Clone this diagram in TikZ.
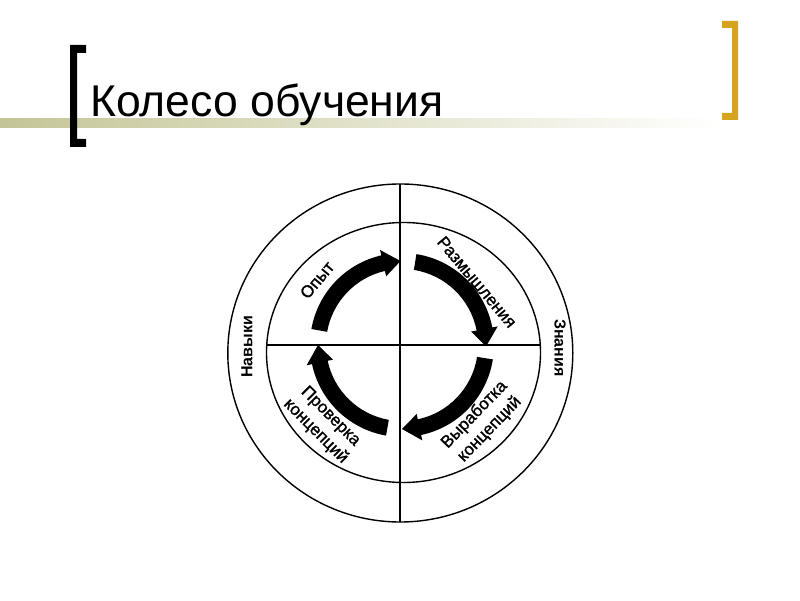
\documentclass[tikz,border=0pt]{standalone}
\usepackage{fontspec}
\setmainfont{Liberation Sans}
\newfontfamily\scanfont[FakeBold=1.2]{Liberation Sans}
\definecolor{khaki}{RGB}{196,197,150}
\definecolor{bracketgold}{RGB}{214,163,30}
\newcommand\ringarrow[2]{%
  \pgfmathsetmacro\raheadang{#2+12}%
  \fill[arrowfill] (#1:92pt) arc[start angle=#1, end angle=\raheadang, radius=92pt]
    -- (\raheadang:97.5pt) -- (#2:84pt) -- (\raheadang:70.5pt) -- (\raheadang:76pt)
    arc[start angle=\raheadang, end angle=#1, radius=76pt] -- cycle;}
\begin{document}
\begin{tikzpicture}[x=1pt,y=1pt,
  arrowfill/.style={fill=black},
  ringline/.style={draw=black, line width=1.4pt},
  axisline/.style={draw=black, line width=1.2pt},
  quadlabel/.style={font=\fontsize{17}{21}\selectfont\scanfont, align=center, inner sep=0pt},
  sidelabel/.style={font=\fontsize{16}{18}\selectfont\bfseries, inner sep=0pt},
  titletext/.style={font=\fontsize{44.5}{50}\selectfont, inner sep=0pt, anchor=base west}]
\useasboundingbox (0,0) rectangle (800,600);
\fill[white] (0,0) rectangle (800,600);
% title decoration
\shade[left color=khaki, right color=white] (0,472) rectangle (720,481);
\fill[black] (70,555) -- (86,555) -- (86,547) -- (77,547) -- (77,461) -- (86,461) -- (86,453) -- (70,453) -- cycle;
\fill[bracketgold] (738,579) -- (722,579) -- (722,572) -- (732,572) -- (732,487) -- (722,487) -- (722,480) -- (738,480) -- cycle;
\node[titletext] (title) at (90,483) {Колесо обучения};
% wheel
\draw[ringline] (400.3,247) ellipse [x radius=172.5pt, y radius=169pt];
\draw[ringline] (403.5,247.5) ellipse [x radius=137pt, y radius=130pt];
\coordinate (vtop) at (400,416);
\coordinate (vbot) at (400,78);
\coordinate (hleft) at (266.7,255);
\coordinate (hright) at (540.3,255);
\draw[axisline] (vtop) -- (vbot);
\draw[axisline] (hleft) -- (hright);
% cycle arrows
\begin{scope}[shift={(402,255)}]
  \ringarrow{170}{91}
  \ringarrow{81}{-1}
  \ringarrow{-9}{-90}
  \ringarrow{-100}{-180}
\end{scope}
% labels
\node[quadlabel, rotate=50] (opyt) at (317,320) {Опыт};
\node[quadlabel, rotate=-50] (razm) at (477,318) {Размышления};
\node[quadlabel, rotate=46] (vyrab) at (482,178) {Выработка\\концепций};
\node[quadlabel, rotate=-45] (prov) at (323,176) {Проверка\\концепций};
\node[sidelabel, rotate=90] (navyki) at (247,253) {Навыки};
\node[sidelabel, rotate=-90] (znaniya) at (560,252) {Знания};
\end{tikzpicture}
\end{document}
